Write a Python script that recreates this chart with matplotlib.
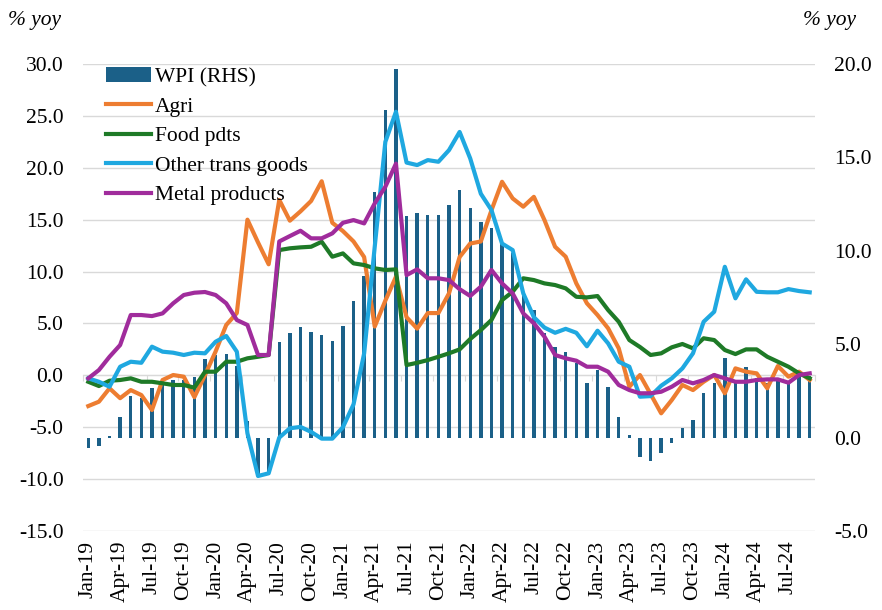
import numpy as np
import pandas as pd
from matplotlib import pyplot as plt

plt.rcParams['font.family'] = ['Liberation Serif', 'DejaVu Serif']

months = pd.date_range('2019-01-01', periods=69, freq='MS').strftime('%b-%y').tolist()

# WPI, % yoy (right axis)
wpi = [-0.57, -0.43, 0.1, 1.12, 2.23, 2.1, 2.64, 3.08, 3.08, 3.1, 3.26, 4.2,
       4.4, 4.5, 3.85, 0.9, -2.0, -2.0, 5.1, 5.58, 5.94, 5.67, 5.49, 5.17,
       5.99, 7.31, 8.67, 13.16, 17.54, 19.71, 11.88, 12.0, 11.92, 11.92, 12.45, 13.25,
       12.27, 11.53, 11.2, 10.4, 9.87, 7.7, 6.83, 5.58, 4.87, 4.6, 3.98, 2.94,
       3.62, 2.73, 1.12, 0.14, -1.02, -1.23, -0.84, -0.3, 0.5, 0.94, 2.37, 2.9,
       4.24, 2.9, 3.8, 3.2, 2.9, 3.2, 3.0, 3.4, 3.3]

agri = [-2.96, -2.54, -1.25, -2.2, -1.42, -1.9, -3.34, -0.45, 0.03, -0.13, -2.1, 0.03,
        2.3, 4.85, 6.0, 15.0, 12.8, 10.7, 16.9, 14.9, 15.8, 16.8, 18.7, 14.7,
        13.9, 12.9, 11.4, 4.7, 7.2, 9.5, 5.6, 4.5, 6.0, 6.0, 7.9, 11.4,
        12.7, 12.9, 15.9, 18.65, 17.05, 16.25, 17.2, 14.96, 12.39, 11.43, 8.86, 6.94,
        5.81, 4.53, 2.6, -1.1, 0.03, -1.8, -3.66, -2.38, -0.93, -1.42, -0.62, 0.03,
        -1.73, 0.67, 0.35, 0.19, -1.25, 0.9, -0.13, 0.35, -0.45]

food = [-0.62, -1.03, -0.52, -0.45, -0.29, -0.62, -0.62, -0.77, -0.93, -0.93, -1.19, 0.35,
        0.35, 1.31, 1.31, 1.64, 1.79, 1.96, 12.07, 12.24, 12.33, 12.39, 12.87, 11.43,
        11.75, 10.79, 10.63, 10.31, 10.15, 10.21, 0.99, 1.21, 1.47, 1.79, 2.12, 2.5,
        3.5, 4.36, 5.33, 7.25, 8.05, 9.35, 9.18, 8.86, 8.7, 8.38, 7.57, 7.51,
        7.64, 6.29, 5.16, 3.4, 2.73, 1.96, 2.12, 2.7, 3.02, 2.6, 3.57, 3.4,
        2.44, 2.05, 2.5, 2.5, 1.79, 1.31, 0.83, 0.19, -0.29]

other = [-0.29, -0.62, -1.1, 0.83, 1.31, 1.21, 2.76, 2.28, 2.18, 1.96, 2.18, 2.12,
         3.24, 3.79, 2.28, -5.59, -9.7, -9.44, -6.0, -5.1, -4.97, -5.45, -6.1, -6.1,
         -5.0, -2.8, 2.1, 12.4, 22.5, 25.4, 20.5, 20.26, 20.74, 20.58, 21.7, 23.45,
         20.9, 17.5, 15.93, 12.7, 12.07, 7.9, 5.6, 4.6, 4.1, 4.48, 4.1, 2.8,
         4.3, 3.08, 1.31, 0.83, -2.06, -2.0, -1.0, -0.29, 0.67, 2.12, 5.16, 6.13,
         10.46, 7.42, 9.25, 8.05, 8.0, 8.0, 8.31, 8.12, 8.0]

metal = [-0.29, 0.51, 1.79, 2.92, 5.81, 5.81, 5.71, 5.97, 6.94, 7.74, 7.96, 8.03,
         7.74, 6.94, 5.33, 4.85, 1.96, 1.96, 12.9, 13.42, 13.93, 13.2, 13.2, 13.68,
         14.7, 14.96, 14.64, 16.57, 18.17, 20.4, 9.66, 10.21, 9.35, 9.35, 9.18, 8.3,
         7.65, 8.54, 10.15, 8.86, 7.9, 5.97, 5.01, 3.72, 1.96, 1.64, 1.41, 0.83,
         0.83, 0.35, -0.93, -1.42, -1.73, -1.73, -1.58, -1.1, -0.45, -0.77, -0.45, 0.03,
         -0.29, -0.62, -0.62, -0.45, -0.39, -0.39, -0.71, 0.03, 0.19]

x = np.arange(len(months))
grid_c = '#d9d9d9'
fs = 15.5

fig = plt.figure(figsize=(8.82, 6.1), dpi=100, facecolor='w')
ax = fig.add_axes([83/882, 1 - 531/610, 732/882, 467/610])

# left axis: grid + ticks
ax.set_ylim(-15, 30)
ax.set_xlim(-0.5, len(months) - 0.5)
lticks = np.arange(-15, 31, 5)
ax.set_yticks(lticks)
ax.set_yticklabels(['%.1f' % v for v in lticks])
ax.yaxis.grid(True, color=grid_c, lw=1)
ax.set_axisbelow(True)
ax.set_xticks(x[::3])
ax.set_xticklabels(months[::3], rotation=90)
ax.tick_params(axis='y', length=0, pad=14, labelsize=fs)
ax.tick_params(axis='x', length=0, pad=7, labelsize=fs)
for s in ax.spines.values():
    s.set_visible(False)

# category axis line crossing at 0
sec = ax.secondary_xaxis((0 - (-15)) / 45)
sec.set_xticks(np.arange(-0.5, len(months), 3))
sec.tick_params(length=4, color=grid_c, labelbottom=False)
sec.spines['bottom'].set_color(grid_c)

# right axis: WPI bars
ax2 = ax.twinx()
ax2.bar(x, wpi, width=0.32, color='#1b6088', label='WPI (RHS)')
ax2.set_ylim(-5, 20)
rticks = np.arange(-5, 21, 5)
ax2.set_yticks(rticks)
ax2.set_yticklabels(['%.1f' % v for v in rticks])
ax2.tick_params(axis='y', length=0, pad=14, labelsize=fs)
for s in ax2.spines.values():
    s.set_visible(False)

# lines on top, left scale
ax3 = ax.twinx()
ax3.set_ylim(-15, 30)
ax3.plot(x, agri, color='#ed7d31', lw=3, label='Agri')
ax3.plot(x, food, color='#1e7a27', lw=3, label='Food pdts')
ax3.plot(x, other, color='#1fa8e0', lw=3, label='Other trans goods')
ax3.plot(x, metal, color='#a02c9c', lw=3, label='Metal products')
ax3.axis('off')

h2, l2 = ax2.get_legend_handles_labels()
h3, l3 = ax3.get_legend_handles_labels()
ax3.legend(h2 + h3, l2 + l3, loc='upper left', bbox_to_anchor=(0.02, 1.012),
           frameon=False, fontsize=fs, handlelength=2.1, handletextpad=0.15,
           labelspacing=0.44, borderaxespad=0)

fig.text(8/882, 1 - 20/610, '% yoy', fontsize=fs, style='italic', va='center')
fig.text(803/882, 1 - 20/610, '% yoy', fontsize=fs, style='italic', va='center')

plt.savefig('out.png', dpi=100)
